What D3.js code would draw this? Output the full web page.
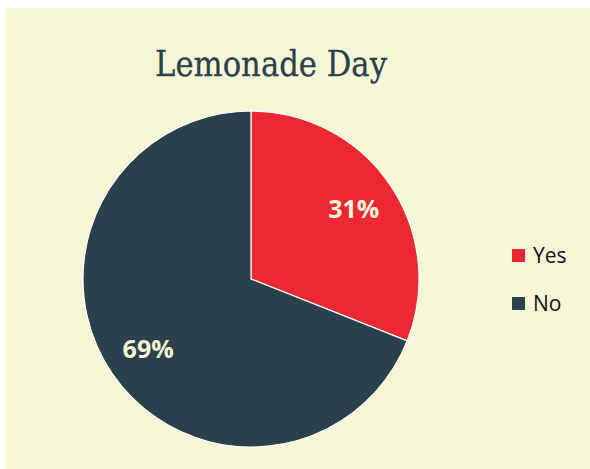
<!DOCTYPE html>
<html>
<head>
<meta charset="utf-8">
<script src="https://cdn.jsdelivr.net/npm/d3@7"></script>
<style>
  body { margin: 0; background: #ffffff; }
</style>
</head>
<body>
<div id="chart"></div>
<script>
var categories = ['Yes', 'No'];
var values = [31, 69];
var colors = ['#EE2833', '#2A404B'];

var width = 590, height = 469;
var cx = 251, cy = 279, radius = 168;

var svg = d3.select('#chart').append('svg')
  .attr('width', width)
  .attr('height', height);

// chart area background
svg.append('rect')
  .attr('x', 5).attr('y', 8)
  .attr('width', width - 5).attr('height', height - 8)
  .attr('fill', '#F7F6D6');

svg.append('text')
  .attr('x', 271).attr('y', 76)
  .attr('text-anchor', 'middle')
  .attr('font-family', 'DejaVu Serif')
  .attr('font-size', 36)
  .attr('textLength', 232)
  .attr('lengthAdjust', 'spacingAndGlyphs')
  .attr('fill', '#2A404B')
  .attr('stroke', '#2A404B')
  .attr('stroke-width', 0.3)
  .text('Lemonade Day');

var data = categories.map(function(c, i) { return {name: c, value: values[i]}; });
var total = d3.sum(values);

var pie = d3.pie().sort(null).value(function(d) { return d.value; });
var arc = d3.arc().innerRadius(0).outerRadius(radius);
var labelArc = d3.arc().innerRadius(radius * 0.74).outerRadius(radius * 0.74);

var g = svg.append('g').attr('transform', 'translate(' + cx + ',' + cy + ')');

g.selectAll('.slice')
  .data(pie(data))
  .enter().append('path')
  .attr('class', 'slice')
  .attr('d', arc)
  .attr('fill', function(d, i) { return colors[i]; })
  .attr('stroke', '#ffffff')
  .attr('stroke-width', 1.2);

g.selectAll('.lbl')
  .data(pie(data))
  .enter().append('text')
  .attr('class', 'lbl')
  .attr('transform', function(d) { return 'translate(' + labelArc.centroid(d) + ')'; })
  .attr('text-anchor', 'middle')
  .attr('dy', '0.36em')
  .attr('font-family', 'Open Sans')
  .attr('font-weight', 'bold')
  .attr('font-size', 25)
  .attr('fill', '#F7F6D6')
  .text(function(d) { return Math.round(d.data.value / total * 100) + '%'; });

// legend
var legend = svg.append('g').attr('transform', 'translate(512,249)');
var item = legend.selectAll('.item')
  .data(data)
  .enter().append('g')
  .attr('class', 'item')
  .attr('transform', function(d, i) { return 'translate(0,' + (i * 48) + ')'; });

item.append('rect')
  .attr('width', 13).attr('height', 13)
  .attr('fill', function(d, i) { return colors[i]; });

item.append('text')
  .attr('x', 21).attr('y', 14)
  .attr('font-family', 'Open Sans')
  .attr('font-size', 21)
  .attr('fill', '#111111')
  .text(function(d) { return d.name; });
</script>
</body>
</html>
